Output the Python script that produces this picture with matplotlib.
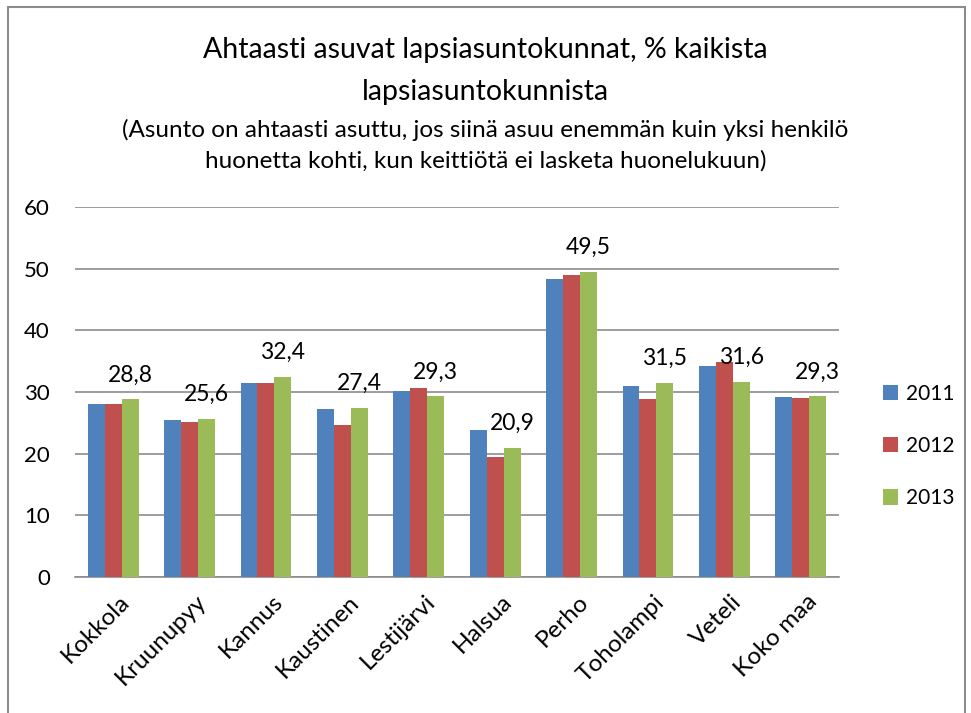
import numpy as np
import matplotlib
matplotlib.use("Agg")
import matplotlib.pyplot as plt
import matplotlib.transforms as mtrans
from matplotlib.patches import Rectangle

plt.rcParams['font.family'] = ['Lato', 'DejaVu Sans']

kunnat = ["Kokkola", "Kruunupyy", "Kannus", "Kaustinen", "Lestijärvi",
          "Halsua", "Perho", "Toholampi", "Veteli", "Koko maa"]
v2011 = [28.1, 25.4, 31.4, 27.2, 30.2, 23.8, 48.3, 30.9, 34.2, 29.2]
v2012 = [28.1, 25.2, 31.5, 24.6, 30.6, 19.5, 48.9, 28.9, 34.9, 29.1]
v2013 = [28.8, 25.6, 32.4, 27.4, 29.3, 20.9, 49.5, 31.5, 31.6, 29.3]
vuodet = ["2011", "2012", "2013"]
varit = ["#4F81BD", "#C0504D", "#9BBB59"]

fig = plt.figure(figsize=(9.71, 7.13), dpi=100)
ax = fig.add_axes([0.0772, 0.1907, 0.7868, 0.519])

# outer chart frame
fig.patches.append(Rectangle((8/971, -0.01), 957/971, 1.0, transform=fig.transFigure,
                             fill=False, edgecolor="#8c8c8c", linewidth=1.5))

x = np.arange(len(kunnat))
w = 0.222
for i, (vals, lab, c) in enumerate(zip([v2011, v2012, v2013], vuodet, varit)):
    bars = ax.bar(x + (i - 1) * w, vals, w, color=c, label=lab, zorder=3)
    if lab == "2013":
        for b, v in zip(bars, vals):
            ax.annotate(f"{v:.1f}".replace(".", ","), (b.get_x() + b.get_width() / 2, v),
                        xytext=(0, 10), textcoords="offset points",
                        ha="center", va="bottom", fontsize=16.5)

ax.set_xlim(-0.5, len(kunnat) - 0.5)
ax.set_ylim(0, 60)
ax.set_yticks(range(0, 61, 10))
ax.yaxis.grid(True, color="#8c8c8c", linewidth=1.2, zorder=0)
for s in ["top", "right", "left"]:
    ax.spines[s].set_visible(False)
ax.spines["bottom"].set_color("#8c8c8c")
ax.spines["bottom"].set_linewidth(1.2)
ax.tick_params(axis="y", length=0, pad=18, labelsize=16)
ax.tick_params(axis="x", length=0, pad=10, labelsize=17.5)
ax.set_xticks(x)
ax.set_xticklabels(kunnat, rotation=45, ha="right", va="top", rotation_mode="anchor")
shift = mtrans.ScaledTranslation(6/100, 0, fig.dpi_scale_trans)
for t in ax.get_xticklabels():
    t.set_transform(t.get_transform() + shift)

fig.text(0.5, 1 - 50/713, "Ahtaasti asuvat lapsiasuntokunnat, % kaikista",
         ha="center", va="center", fontsize=20.5)
fig.text(0.5, 1 - 92/713, "lapsiasuntokunnista", ha="center", va="center", fontsize=20.5)
fig.text(0.5, 1 - 130/713, "(Asunto on ahtaasti asuttu, jos siinä asuu enemmän kuin yksi henkilö",
         ha="center", va="center", fontsize=17.5)
fig.text(0.5, 1 - 161/713, "huonetta kohti, kun keittiötä ei lasketa huonelukuun)",
         ha="center", va="center", fontsize=17.5)

fig.legend(loc="center left", bbox_to_anchor=(864/971, 1 - 446/713), frameon=False,
           fontsize=15, handlelength=0.75, handleheight=0.75, handletextpad=0.35,
           labelspacing=1.55)

fig.savefig("out.png", dpi=100)
